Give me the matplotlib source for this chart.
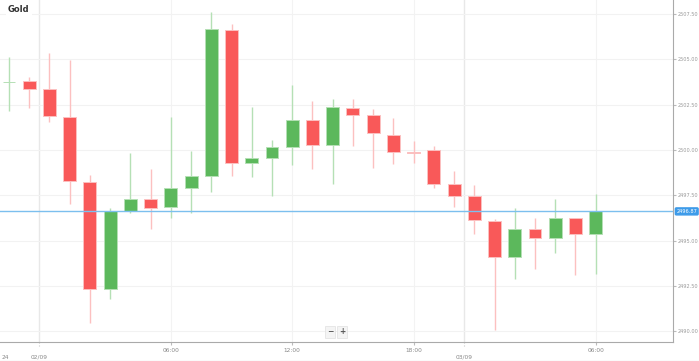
import numpy as np
import matplotlib.pyplot as plt
from matplotlib.lines import Line2D

# Velas horarias (índice de vela, precios)
opens = [2503.74, 2503.82, 2503.38, 2501.83, 2498.21, 2492.30, 2496.64, 2497.29, 2496.86, 2497.88,
         2498.56, 2506.65, 2499.26, 2499.55, 2500.18, 2501.65, 2500.25, 2502.33, 2501.94, 2500.81,
         2499.87, 2499.99, 2498.10, 2497.46, 2496.09, 2494.09, 2495.62, 2495.14, 2496.22, 2495.36]
highs = [2505.15, 2504.01, 2505.33, 2504.96, 2498.61, 2496.78, 2499.85, 2498.95, 2501.80, 2499.94,
         2507.61, 2506.93, 2502.38, 2500.55, 2503.58, 2502.70, 2502.83, 2502.81, 2502.26, 2501.78,
         2500.49, 2500.22, 2498.84, 2498.06, 2496.17, 2496.78, 2496.22, 2497.31, 2496.26, 2497.55]
lows = [2502.16, 2502.33, 2501.54, 2497.03, 2490.43, 2491.79, 2496.53, 2495.63, 2496.26, 2496.53,
        2497.66, 2498.56, 2498.49, 2497.47, 2499.18, 2498.93, 2498.10, 2500.23, 2498.98, 2499.21,
        2499.26, 2497.91, 2496.86, 2495.34, 2490.06, 2492.89, 2493.43, 2494.29, 2493.11, 2493.17]
closes = [2503.76, 2503.38, 2501.87, 2498.28, 2492.32, 2496.64, 2497.29, 2496.81, 2497.91, 2498.56,
          2506.66, 2499.26, 2499.57, 2500.18, 2501.65, 2500.25, 2502.35, 2501.94, 2500.92, 2499.87,
          2499.83, 2498.13, 2497.44, 2496.11, 2494.09, 2495.63, 2495.15, 2496.26, 2495.36, 2496.61]

# Etiquetas del eje de tiempo (posición en velas)
tick_pos = [8, 14, 20, 29]
tick_labels = ['06:00', '12:00', '18:00', '06:00']
day_pos = [1.5, 22.5]
day_labels = ['02/09', '03/09']
y_ticks = [2490.0, 2492.5, 2495.0, 2497.5, 2500.0, 2502.5, 2505.0, 2507.5]
last_label = '2496.87'

verde = '#5cb85c'
rojo = '#f95959'
verde_claro = '#b5e0b5'
rojo_claro = '#fcc0c0'

fig = plt.figure(figsize=(6.99, 3.61), dpi=100)
ax = fig.add_axes([0, 19 / 361, 673 / 699, 342 / 361])

x = np.arange(len(opens))
o = np.array(opens)
c = np.array(closes)
sube = c >= o
col_cuerpo = [verde if s else rojo for s in sube]
col_mecha = [verde_claro if s else rojo_claro for s in sube]

ax.vlines(x, lows, highs, colors=col_mecha, linewidth=1.0, zorder=2)
ax.bar(x, np.abs(c - o), bottom=np.minimum(o, c), width=0.64, color=col_cuerpo,
       edgecolor=col_mecha, linewidth=0.7, zorder=3)

# Línea del último precio
ax.axhline(closes[-1], color='#7cbfee', linewidth=1.0, zorder=4)
ax.text(1.005, closes[-1], last_label, transform=ax.get_yaxis_transform(), fontsize=3.6,
        color='white', va='center', ha='left', clip_on=False,
        bbox=dict(boxstyle='round,pad=0.2', fc='#3d9be9', ec='#3d9be9'))

ax.set_xlim(-0.445, 32.82)
ax.set_ylim(2489.40, 2508.28)

ax.set_yticks(y_ticks)
ax.set_yticklabels(['%.2f' % v for v in y_ticks])
ax.yaxis.tick_right()
ax.tick_params(axis='y', labelsize=3.6, labelcolor='#999999', length=2, color='#bbbbbb', pad=1.5)
ax.grid(axis='y', color='#f2f2f2', linewidth=0.8)

ax.set_xticks(tick_pos)
ax.set_xticklabels(tick_labels)
ax.tick_params(axis='x', labelsize=4.2, labelcolor='#888888', length=2, color='#bbbbbb', pad=2)
for p in tick_pos:
    ax.axvline(p, color='#f3f3f3', linewidth=0.8, zorder=0)
for p, lab in zip(day_pos, day_labels):
    ax.axvline(p, color='#e8e8e8', linewidth=1.0, zorder=0)
    ax.text(p, -0.037, lab, transform=ax.get_xaxis_transform(), fontsize=4.2, color='#888888',
            ha='center', va='top')
    ax.plot([p, p], [0, -0.015], transform=ax.get_xaxis_transform(), color='#cccccc',
            linewidth=0.8, linestyle=':', clip_on=False)
ax.text(-0.2, -0.037, '24', transform=ax.get_xaxis_transform(), fontsize=4.2, color='#888888',
        ha='center', va='top')

for lado in ['top', 'left']:
    ax.spines[lado].set_visible(False)
for lado in ['right', 'bottom']:
    ax.spines[lado].set_color('#aaaaaa')
    ax.spines[lado].set_linewidth(0.8)

# Título
ax.text(8 / 673, 1 - 10 / 342, 'Gold', transform=ax.transAxes, fontsize=6, fontweight='bold',
        color='#333333', va='center', ha='left',
        bbox=dict(boxstyle='square,pad=0.3', fc='white', ec='none'))

# Botones de zoom
for xb, s in [(330 / 673, '\u2212'), (342 / 673, '+')]:
    ax.text(xb, 1 - 332 / 342, s, transform=ax.transAxes, fontsize=5.5, fontweight='bold',
            color='#555555', ha='center', va='center',
            bbox=dict(boxstyle='square,pad=0.25', fc='#f4f4f4', ec='#e0e0e0', lw=0.5))

# Línea inferior de la figura
fig.add_artist(Line2D([0, 1], [0.5 / 361, 0.5 / 361], color='#e6e6e6', linewidth=1.0))

fig.savefig('out.png', dpi=100)
